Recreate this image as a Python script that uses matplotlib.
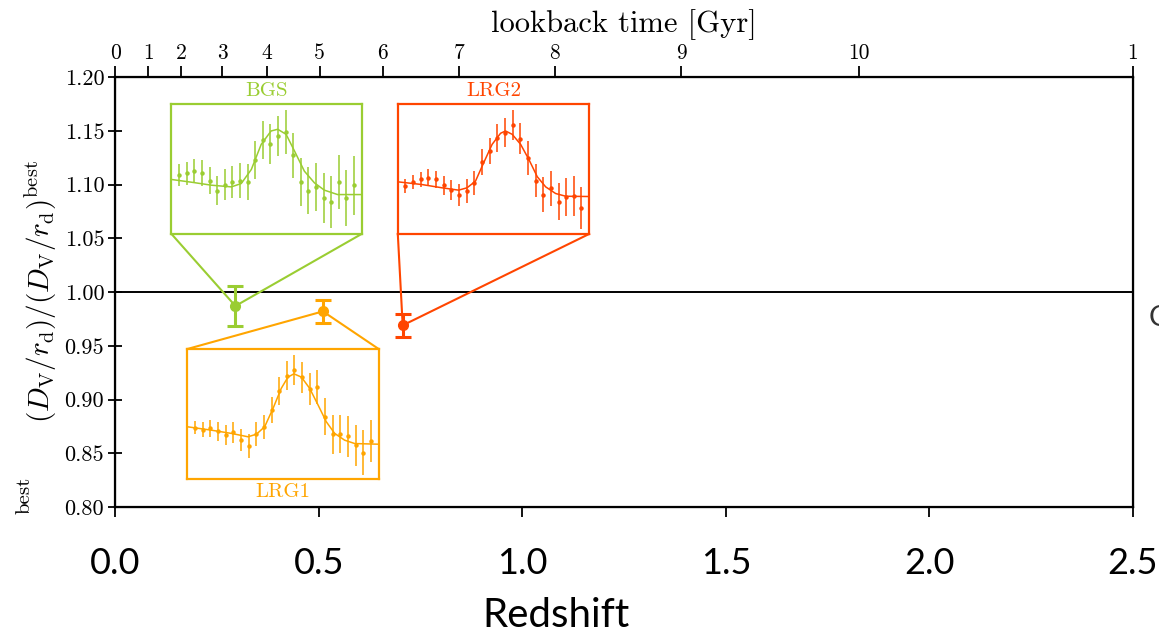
import numpy as np
import matplotlib.pyplot as plt

plt.rcParams['mathtext.fontset'] = 'cm'
plt.rcParams['axes.unicode_minus'] = False

# BAO distance ratios per tracer
tracers = ['BGS', 'LRG1', 'LRG2']
z_eff = [0.295, 0.510, 0.706]
dv_ratio = [0.987, 0.982, 0.969]
dv_err = [0.019, 0.011, 0.011]
colors = ['#9acd32', '#ffa500', '#ff4500']

# inset boxes in (redshift, ratio) units: x0, x1, y0, y1
inset_boxes = [(0.138, 0.605, 1.054, 1.175),
               (0.177, 0.647, 0.826, 0.947),
               (0.694, 1.164, 1.054, 1.175)]

# lookback time axis
lookback_z = [0.0, 0.081, 0.162, 0.263, 0.372, 0.502, 0.657, 0.844, 1.080, 1.390, 1.828, 2.5]
lookback_labels = ['0', '1', '2', '3', '4', '5', '6', '7', '8', '9', '10', '1']

# correlation function wedges shown in the insets (normalised units)
s_bins = np.arange(64, 157, 4)
xi_data = {
    'BGS': [0.452, 0.465, 0.486, 0.470, 0.409, 0.332, 0.378, 0.401, 0.411, 0.401, 0.568, 0.722,
            0.689, 0.753, 0.784, 0.604, 0.401, 0.332, 0.362, 0.275, 0.249, 0.398, 0.275, 0.373],
    'LRG1': [0.394, 0.381, 0.389, 0.366, 0.338, 0.358, 0.299, 0.253, 0.345, 0.399, 0.531, 0.675,
             0.794, 0.840, 0.781, 0.693, 0.706, 0.479, 0.343, 0.345, 0.330, 0.260, 0.204, 0.291],
    'LRG2': [0.368, 0.401, 0.419, 0.432, 0.419, 0.373, 0.337, 0.301, 0.329, 0.391, 0.553, 0.638,
             0.740, 0.779, 0.835, 0.733, 0.581, 0.411, 0.303, 0.350, 0.247, 0.285, 0.290, 0.201],
}
xi_err = {
    'BGS': [0.084, 0.089, 0.093, 0.100, 0.105, 0.113, 0.118, 0.122, 0.132, 0.137, 0.145, 0.148,
            0.154, 0.157, 0.167, 0.171, 0.184, 0.180, 0.186, 0.193, 0.200, 0.208, 0.216, 0.226],
    'LRG1': [0.049, 0.054, 0.064, 0.070, 0.077, 0.083, 0.084, 0.092, 0.090, 0.094, 0.103, 0.107,
             0.112, 0.113, 0.120, 0.122, 0.130, 0.142, 0.147, 0.148, 0.157, 0.157, 0.170, 0.163],
    'LRG2': [0.051, 0.056, 0.058, 0.067, 0.068, 0.074, 0.079, 0.083, 0.090, 0.094, 0.100, 0.103,
             0.108, 0.110, 0.115, 0.118, 0.130, 0.129, 0.134, 0.136, 0.142, 0.147, 0.154, 0.160],
}
# best-fit model curves
model_s = {
    'BGS': [60, 70.5, 81, 91.5, 96.7, 102, 107.2, 112.4, 115.9, 120.3, 124.7, 129.9, 135.2, 140.4, 147.4, 160],
    'LRG1': [60, 72.5, 83, 91.7, 96.1, 100.4, 104.8, 109.1, 112.6, 115.7, 119.6, 123.9, 128.3, 132.6, 137, 142.2, 147.5, 160],
    'LRG2': [60, 72.6, 83.1, 91.8, 96.2, 100.6, 104.9, 109.3, 113.7, 116.3, 119.8, 124.2, 128.5, 132.9, 137.3, 142.5, 147.8, 160],
}
model_xi = {
    'BGS': [0.419, 0.398, 0.375, 0.362, 0.388, 0.496, 0.689, 0.792, 0.805, 0.766, 0.638, 0.483,
            0.393, 0.337, 0.303, 0.303],
    'LRG1': [0.402, 0.376, 0.351, 0.325, 0.345, 0.402, 0.544, 0.698, 0.784, 0.809, 0.784, 0.698,
             0.570, 0.441, 0.351, 0.299, 0.273, 0.268],
    'LRG2': [0.401, 0.380, 0.355, 0.337, 0.355, 0.406, 0.548, 0.689, 0.774, 0.792, 0.766, 0.689,
             0.573, 0.440, 0.362, 0.311, 0.290, 0.288],
}

fig = plt.figure(figsize=(11.59, 6.34), dpi=100)
ax = fig.add_axes([0.0995, 0.2003, 0.878, 0.6782])

ax.axhline(1.0, color='black', lw=1.4, zorder=1)

for name, z, r, e, c, box in zip(tracers, z_eff, dv_ratio, dv_err, colors, inset_boxes):
    x0, x1, y0, y1 = box
    # lines from the inset box to its measurement
    edge_y = y0 if y0 > r else y1
    ax.plot([x0, z], [edge_y, r], color=c, lw=1.5, zorder=2)
    ax.plot([x1, z], [edge_y, r], color=c, lw=1.5, zorder=2)
    ax.errorbar(z, r, yerr=e, fmt='o', color=c, ms=7, elinewidth=2.2,
                capsize=6, capthick=2.2, zorder=4)

    ins = ax.inset_axes([x0, y0, x1 - x0, y1 - y0], transform=ax.transData)
    ins.errorbar(s_bins, xi_data[name], yerr=xi_err[name], fmt='o', color=c,
                 ms=2.2, elinewidth=1.1, capsize=0)
    ins.plot(model_s[name], model_xi[name], color=c, lw=1.1)
    ins.set_xlim(60, 160)
    ins.set_ylim(0, 1)
    ins.set_xticks([])
    ins.set_yticks([])
    ins.set_facecolor('white')
    for sp in ins.spines.values():
        sp.set_color(c)
        sp.set_linewidth(1.6)
    if y0 > r:
        ins.text(0.5, 1.03, name, color=c, ha='center', va='bottom',
                 transform=ins.transAxes, family='cmr10', fontsize=15)
    else:
        ins.text(0.5, -0.03, name, color=c, ha='center', va='top',
                 transform=ins.transAxes, family='cmr10', fontsize=15)

ax.set_xlim(0, 2.5)
ax.set_ylim(0.8, 1.2)
ax.set_yticks([0.80, 0.85, 0.90, 0.95, 1.00, 1.05, 1.10, 1.15, 1.20])
ax.set_yticklabels(['0.80', '0.85', '0.90', '0.95', '1.00', '1.05', '1.10', '1.15', '1.20'])
ax.set_xticks([0.0, 0.5, 1.0, 1.5, 2.0, 2.5])
ax.set_xticklabels(['0.0', '0.5', '1.0', '1.5', '2.0', '2.5'], family='Lato', fontsize=26)
ax.tick_params(axis='y', direction='inout', length=10, width=1.3, labelsize=16,
               labelfontfamily='cmr10', pad=3)
ax.tick_params(axis='x', direction='out', length=7, width=1.3, pad=22)
ax.tick_params(right=False)
for sp in ax.spines.values():
    sp.set_linewidth(1.6)

ax.set_ylabel(r'$(D_\mathrm{V}/r_\mathrm{d})/(D_\mathrm{V}/r_\mathrm{d})^\mathrm{best}$',
              fontsize=21, labelpad=4)
fig.text(0.4797, 0.011, 'Redshift', family='Lato', fontsize=29, ha='center', va='baseline')

top = ax.twiny()
top.set_xlim(ax.get_xlim())
top.set_xticks(lookback_z)
top.set_xticklabels(lookback_labels, family='cmr10', fontsize=15.5)
top.tick_params(axis='x', direction='out', length=8, width=1.3, pad=2)
top.set_xlabel('lookback time [Gyr]', family='cmr10', fontsize=22, labelpad=8)

# pieces of neighbouring labels at the figure edges
fig.text(0.021, 0.218, 'best', rotation=90, family='cmr10', fontsize=15,
         ha='center', va='center')
fig.text(0.991, 0.498, 'C', family='Lato', fontsize=21, ha='left', va='center',
         color='#333333')

fig.savefig('out.png', dpi=100)
